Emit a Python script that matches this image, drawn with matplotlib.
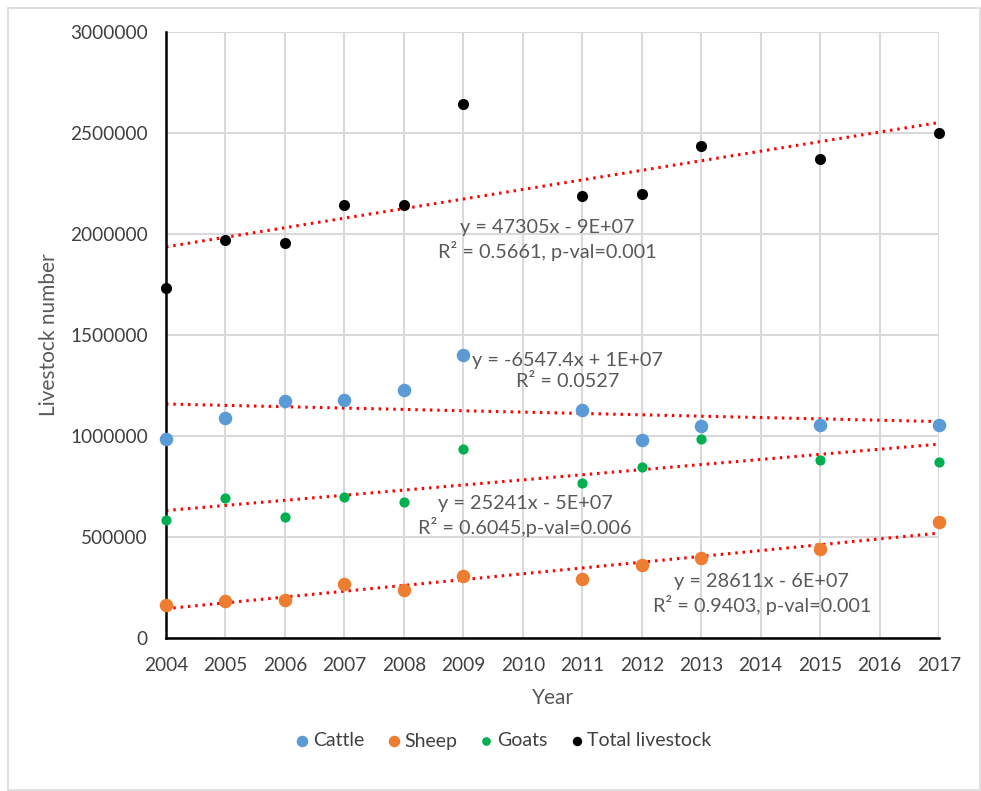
import numpy as np
import matplotlib
matplotlib.use("Agg")
import matplotlib.pyplot as plt
from matplotlib.patches import Rectangle

plt.rcParams['font.family'] = ['Lato', 'DejaVu Sans']

# data
years = [2004, 2005, 2006, 2007, 2008, 2009, 2011, 2012, 2013, 2015, 2017]
cattle = [985000, 1089000, 1173000, 1178000, 1228000, 1401000, 1129000, 980000, 1050000, 1054000, 1054000]
sheep = [163000, 183000, 188000, 267000, 238000, 307000, 292000, 361000, 396000, 441000, 574000]
goats = [584000, 693000, 599000, 698000, 673000, 936000, 767000, 847000, 985000, 881000, 871000]
total = [1733000, 1970000, 1955000, 2144000, 2144000, 2644000, 2188000, 2198000, 2436000, 2371000, 2500000]

series_names = ["Cattle", "Sheep", "Goats", "Total livestock"]
series_colors = ["#5B9BD5", "#ED7D31", "#00B050", "#000000"]
series_sizes = [95, 95, 54, 64]

eq_texts = [
    "y = -6547.4x + 1E+07\nR\u00b2 = 0.0527",
    "y = 28611x - 6E+07\nR\u00b2 = 0.9403, p-val=0.001",
    "y = 25241x - 5E+07\nR\u00b2 = 0.6045,p-val=0.006",
    "y = 47305x - 9E+07\nR\u00b2 = 0.5661, p-val=0.001",
]
eq_pos = [(2010.75, 1322000), (2014.02, 218000), (2010.04, 604000), (2010.42, 1970000)]

fig = plt.figure(figsize=(9.81, 7.91), dpi=100)
ax = fig.add_axes([166/981, 1-638/791, (939-166)/981, (638-32)/791])

x = np.array(years)
all_series = [cattle, sheep, goats, total]
for vals, name, col, s in zip(all_series, series_names, series_colors, series_sizes):
    ax.scatter(x, vals, s=s, color=col, label=name, zorder=3, linewidths=0, clip_on=False)
    k, b = np.polyfit(x, vals, 1)
    xx = np.array([2004, 2017])
    ax.plot(xx, k*xx + b, color="red", lw=2.2, linestyle=(0, (0.8, 1.6)), zorder=2)

for txt, (tx, ty) in zip(eq_texts, eq_pos):
    ax.text(tx, ty, txt, ha="center", va="center", multialignment="center",
            fontsize=14.3, color="#595959", linespacing=1.3, zorder=4)

ax.set_xlim(2004, 2017)
ax.set_ylim(0, 3000000)
ax.set_xticks(range(2004, 2018))
ax.set_yticks(range(0, 3000001, 500000))
ax.ticklabel_format(style="plain", axis="y", useOffset=False)
ax.grid(True, color="#D9D9D9", lw=1.5, zorder=0)
ax.set_axisbelow(True)
for sp in ["top", "right"]:
    ax.spines[sp].set_visible(False)
for sp in ["left", "bottom"]:
    ax.spines[sp].set_color("black")
    ax.spines[sp].set_linewidth(1.8)
ax.tick_params(length=0, labelsize=13.7, labelcolor="#404040")
ax.tick_params(axis="x", pad=14)
ax.tick_params(axis="y", pad=13)

ax.set_xlabel("Year", fontsize=15, color="#595959", labelpad=10)
ax.set_ylabel("Livestock number", fontsize=15, color="#595959", labelpad=8)

fig.legend(loc="center", bbox_to_anchor=(0.512, 1-741/791), ncol=4, frameon=False,
           fontsize=14, labelcolor="#404040", handletextpad=0.05, columnspacing=1.0,
           handlelength=1.0, scatterpoints=1, markerscale=0.85)

fig.patches.append(Rectangle((8/981, 1-790/791), 972/981, 782/791, transform=fig.transFigure,
                             fill=False, edgecolor="#D9D9D9", lw=1.2))

fig.savefig("out.png", dpi=100)
